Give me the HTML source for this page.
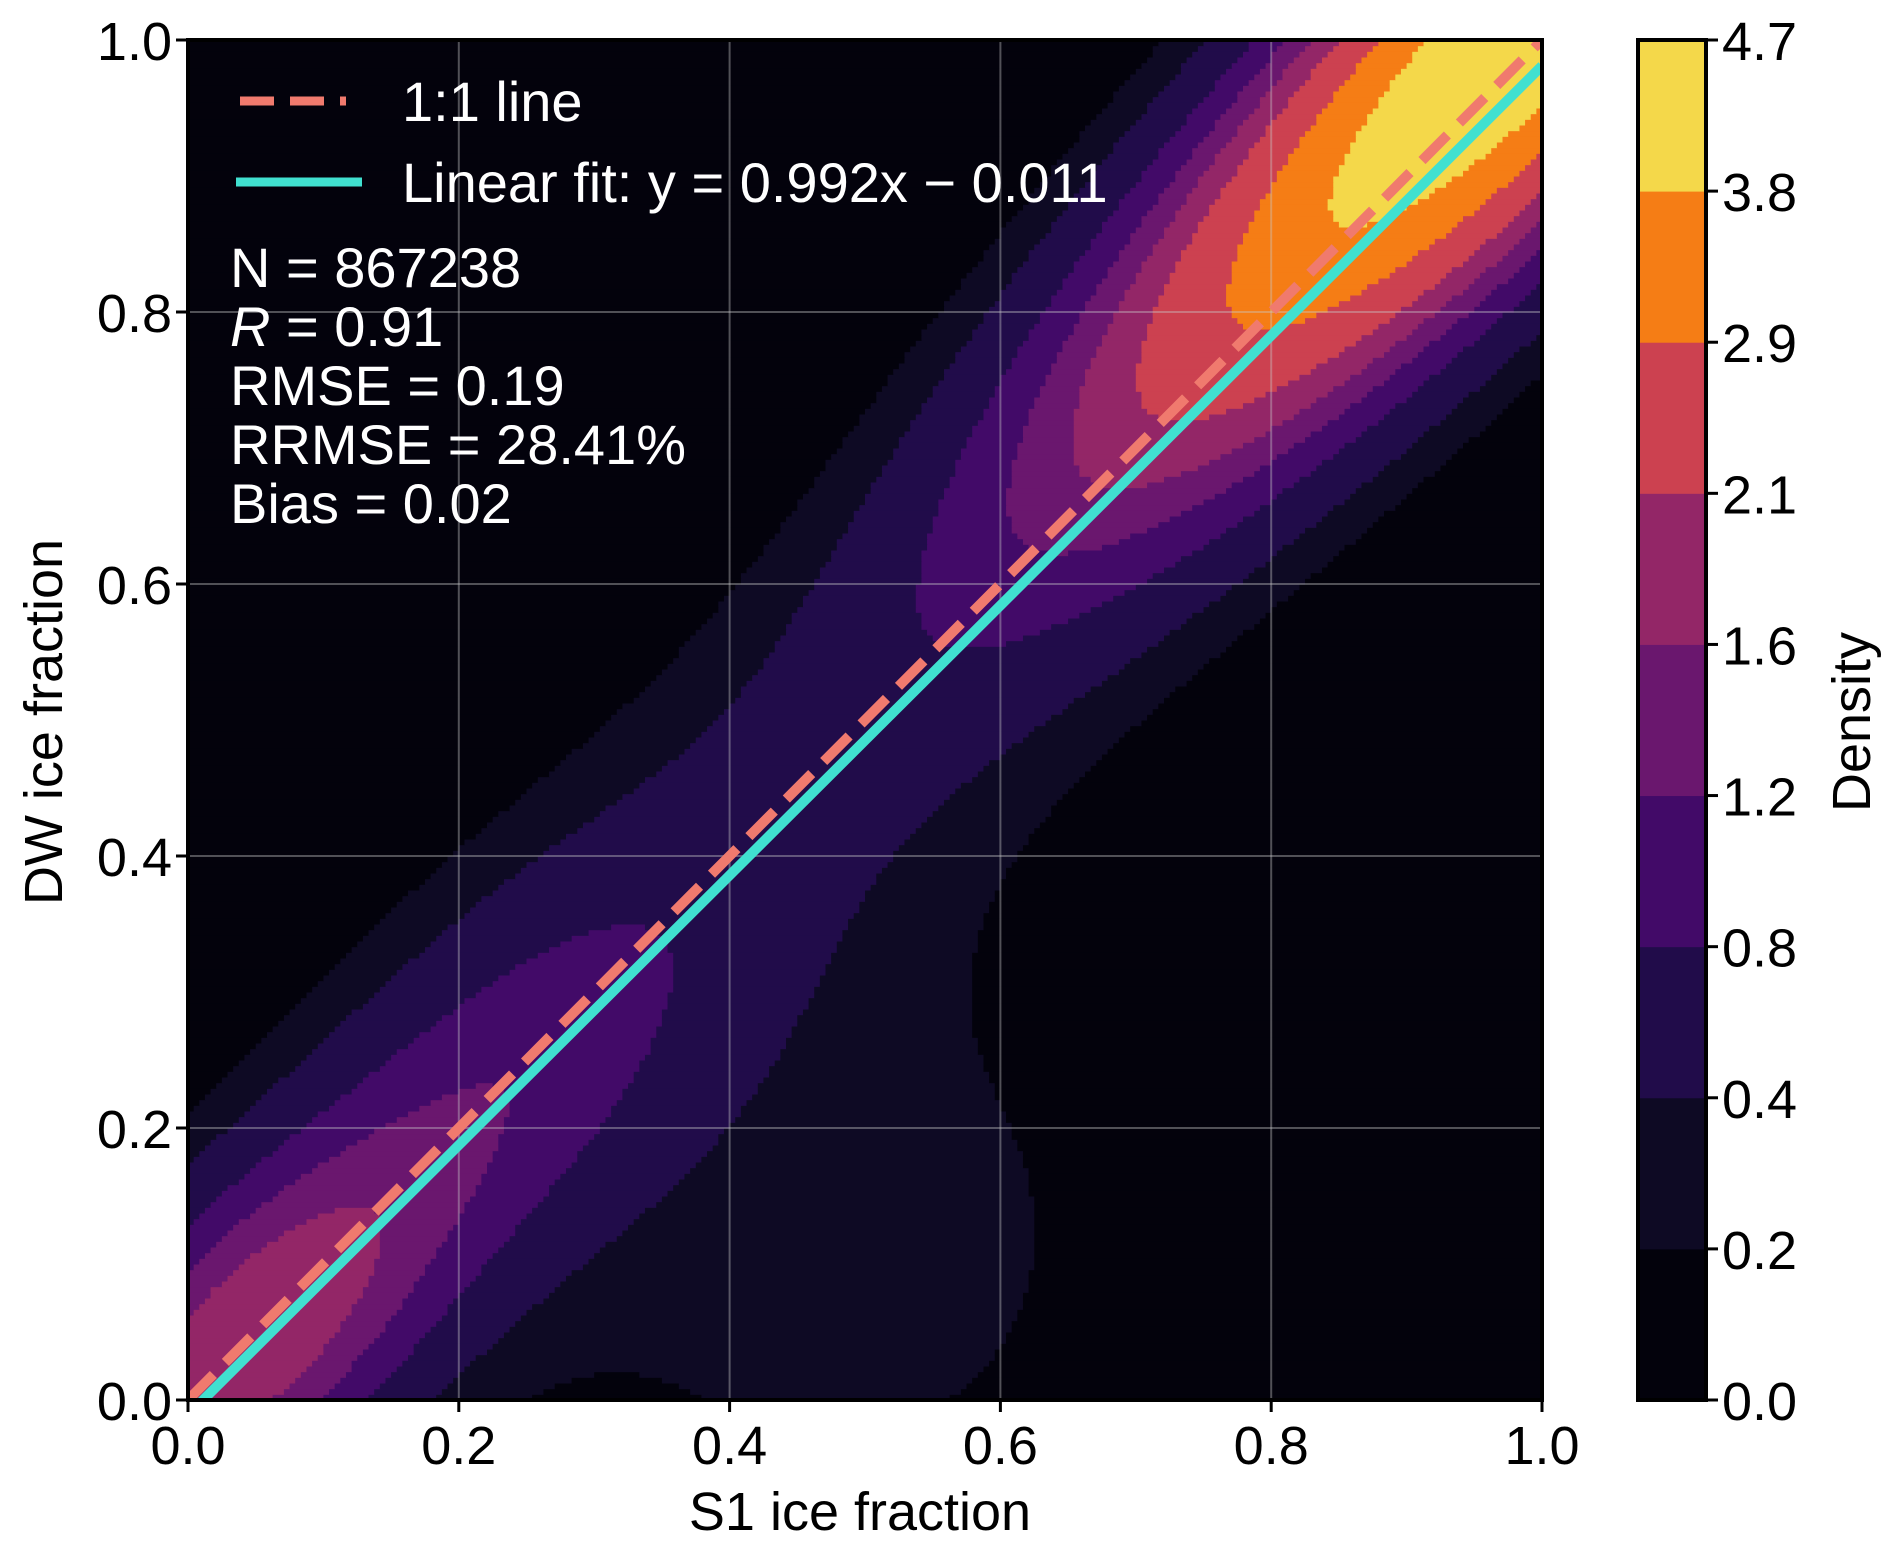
<!DOCTYPE html>
<html><head><meta charset="utf-8">
<style>
body{margin:0;background:#fff;}
svg{display:block;font-family:"Liberation Sans",sans-serif;}
</style></head>
<body>
<svg id="chart" width="1892" height="1542" viewBox="0 0 1892 1542">
<clipPath id="clip"><rect x="188" y="40" width="1354" height="1360"/></clipPath>
<g id="contours" clip-path="url(#clip)"></g>
<g id="grid" clip-path="url(#clip)"></g>
<g id="lines" clip-path="url(#clip)"></g>
<rect x="188" y="40" width="1354" height="1360" fill="none" stroke="#000" stroke-width="4"/>
<g id="axes"></g>
<g id="legend">
<line x1="240" y1="101" x2="346" y2="101" stroke="#f07a6e" stroke-width="9" stroke-dasharray="34 16"/>
<text x="402" y="121" font-size="56" fill="#fff">1:1 line</text>
<line x1="236" y1="182" x2="362" y2="182" stroke="#40e0d0" stroke-width="9"/>
<text x="402" y="202" font-size="56" fill="#fff">Linear fit: y = 0.992x − 0.011</text>
</g>
<g font-size="56" fill="#fff">
<text x="230" y="287">N = 867238</text>
<text x="230" y="346"><tspan font-style="italic">R</tspan> = 0.91</text>
<text x="230" y="405">RMSE = 0.19</text>
<text x="230" y="464">RRMSE = 28.41%</text>
<text x="230" y="523">Bias = 0.02</text>
</g>
<text x="860" y="1530" font-size="54" text-anchor="middle">S1 ice fraction</text>
<text transform="translate(62,722) rotate(-90)" font-size="54" text-anchor="middle">DW ice fraction</text>
<g id="cbar"></g>
<text transform="translate(1870,722) rotate(-90)" font-size="54" text-anchor="middle">Density</text>
</svg>
<script>
const levels=[0,0.2,0.4,0.8,1.2,1.6,2.1,2.9,3.8,4.7];
const levelColors=["#03020c","#0e0a24","#210c4a","#420a68","#6a176e","#932667","#cc4150","#f57d15","#f4d84a"];
const ticks=[0,0.2,0.4,0.6,0.8,1.0];
// KDE components: along-diagonal centre (or x for point), offset y-x (or y for point), weight, sigmas
const compA=[1.0,0.03,0.22,0.5,0.48];
const compD=[0.02,0,0,0,0.12];
const compW=[4.5,1.6,0.7,0.3,0.26];
const compSA=[0.21,0.09,0.11,0.5,0.2];
const compSP=[0.105,0.09,0.1,0.14,0.2];
const compType=["d","d","d","d","p"];
const fitSlope=0.992, fitIntercept=-0.011;
const X0=188,X1=1542,Y0=1400,Y1=40;
const sx=v=>X0+(X1-X0)*v, sy=v=>Y0+(Y1-Y0)*v;
const NS="http://www.w3.org/2000/svg";
function mk(tag,attrs,parent){const e=document.createElementNS(NS,tag);for(const k in attrs)e.setAttribute(k,attrs[k]);parent.appendChild(e);return e;}
function density(x,y){
 let s=0;
 for(let i=0;i<compW.length;i++){
  let e;
  if(compType[i]==="p"){
   const dx=(x-compA[i])/compSA[i], dy=(y-compD[i])/compSP[i]; e=dx*dx+dy*dy;
  } else {
   const a=(x+y)/2-compA[i], d=(y-x)-compD[i];
   e=a*a/(compSA[i]*compSA[i])+d*d/(compSP[i]*compSP[i]);
  }
  s+=compW[i]*Math.exp(-e/2);
 }
 return s;
}
function band(v){for(let k=levels.length-2;k>=0;k--){if(v>=levels[k])return k;}return 0;}
const cg=document.getElementById('contours');
const N=240, cw=(X1-X0)/N, ch=(Y0-Y1)/N;
for(let j=0;j<N;j++){
 const y=(j+0.5)/N;let start=0,cur=band(density(0.5/N,y));
 for(let i=1;i<=N;i++){
  const b=i<N?band(density((i+0.5)/N,y)):-1;
  if(b!==cur){
   const r=mk('rect',{x:X0+start*cw,y:Y0-(j+1)*ch-0.5,width:(i-start)*cw+0.6,height:ch+1,fill:levelColors[cur]},cg);
   
   
   start=i;cur=b;
  }
 }
}
const gg=document.getElementById('grid');
ticks.forEach(t=>{
 const a=mk('line',{x1:sx(t),x2:sx(t),y1:Y0,y2:Y1,stroke:"rgba(200,200,200,0.4)","stroke-width":2},gg);
 
 
 const b=mk('line',{x1:X0,x2:X1,y1:sy(t),y2:sy(t),stroke:"rgba(200,200,200,0.4)","stroke-width":2},gg);
 
 
});
const lg=document.getElementById('lines');
const l1=mk('line',{x1:sx(0),y1:sy(0),x2:sx(1),y2:sy(1),stroke:"#f07a6e","stroke-width":10,"stroke-dasharray":"36 17"},lg);


const l2=mk('line',{x1:sx(0),y1:sy(fitIntercept),x2:sx(1),y2:sy(fitSlope+fitIntercept),stroke:"#40e0d0","stroke-width":10},lg);


const ag=document.getElementById('axes');
ticks.forEach(t=>{
 const tx=mk('line',{x1:sx(t),x2:sx(t),y1:Y0,y2:Y0+12,stroke:"#000","stroke-width":3},ag);
 
 
 const lx=mk('text',{x:sx(t),y:Y0+64,"font-size":54,"text-anchor":"middle"},ag);lx.textContent=t.toFixed(1);
 
 
 const ty=mk('line',{x1:X0-12,x2:X0,y1:sy(t),y2:sy(t),stroke:"#000","stroke-width":3},ag);
 
 
 const ly=mk('text',{x:X0-16,y:sy(t)+20,"font-size":54,"text-anchor":"end"},ag);ly.textContent=t.toFixed(1);
 
 
});
const cb=document.getElementById('cbar');
const CX=1638,CW=68,nb=levelColors.length,bh=(Y0-Y1)/nb;
levelColors.forEach((c,k)=>{
 const r=mk('rect',{x:CX,y:Y0-(k+1)*bh,width:CW,height:bh+0.5,fill:c},cb);
 
 
});
const fr=mk('rect',{x:CX,y:Y1,width:CW,height:Y0-Y1,fill:"none",stroke:"#000","stroke-width":4},cb);


levels.forEach((v,k)=>{
 const yy=Y0-k*bh;
 const t=mk('line',{x1:CX+CW,x2:CX+CW+12,y1:yy,y2:yy,stroke:"#000","stroke-width":3},cb);
 
 
 const l=mk('text',{x:CX+CW+16,y:yy+20,"font-size":54},cb);l.textContent=v.toFixed(1);
 
 
});
</script>
</body></html>
